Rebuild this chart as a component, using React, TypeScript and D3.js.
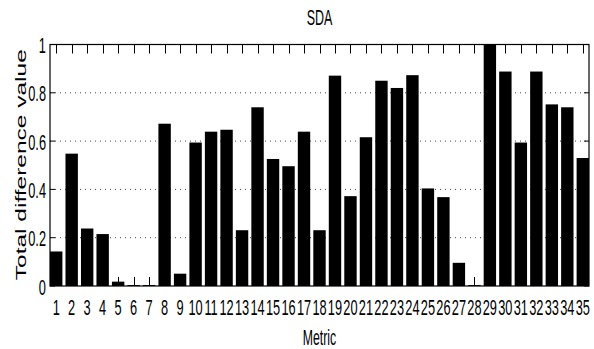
import { useEffect, useRef } from "react";
import * as d3 from "d3";

const metrics = [
  "1", "2", "3", "4", "5", "6", "7", "8", "9", "10",
  "11", "12", "13", "14", "15", "16", "17", "18", "19", "20",
  "21", "22", "23", "24", "25", "26", "27", "28", "29", "30",
  "31", "32", "33", "34", "35",
];
const values = [
  0.143, 0.548, 0.238, 0.215, 0.018, 0.004, 0.004, 0.672, 0.051, 0.594,
  0.639, 0.647, 0.231, 0.74, 0.526, 0.496, 0.639, 0.231, 0.871, 0.372,
  0.616, 0.85, 0.82, 0.873, 0.404, 0.368, 0.096, 0.004, 1.0, 0.888,
  0.594, 0.888, 0.752, 0.74, 0.53,
];
const yTicks = [0, 0.2, 0.4, 0.6, 0.8, 1];
const yTickLabels = ["0", "0.2", "0.4", "0.6", "0.8", "1"];

const App = () => {
  const svgRef = useRef<SVGSVGElement>(null);

  useEffect(() => {
    if (!svgRef.current) return;
    d3.select(svgRef.current).selectAll("*").remove();

    const width = 594;
    const height = 349;
    const margin = { top: 44.5, right: 5, bottom: 63, left: 50 };
    const font = "'Liberation Sans', Arial, sans-serif";
    const stretch = 1.75; // the original figure is squashed sideways

    const svg = d3.select(svgRef.current)
      .attr("width", width)
      .attr("height", height)
      .attr("viewBox", `0 0 ${width} ${height}`);

    const x = d3.scaleLinear()
      .domain([0.6, metrics.length + 0.4])
      .range([margin.left, width - margin.right]);
    const y = d3.scaleLinear()
      .domain([0, 1])
      .range([height - margin.bottom, margin.top]);

    const x0 = x.range()[0];
    const x1 = x.range()[1];
    const yb = y(0);
    const yt = y(1);
    const barW = x(0.8) - x(0);

    // dotted grid
    svg.append("g")
      .selectAll("line")
      .data(yTicks.slice(1, -1))
      .join("line")
      .attr("x1", x0)
      .attr("x2", x1)
      .attr("y1", d => y(d))
      .attr("y2", d => y(d))
      .attr("stroke", "#444")
      .attr("stroke-width", 1)
      .attr("stroke-dasharray", "1,4");

    // bars
    svg.append("g")
      .selectAll("rect")
      .data(values)
      .join("rect")
      .attr("x", (_, i) => x(i + 1) - barW / 2)
      .attr("y", d => y(d))
      .attr("width", barW)
      .attr("height", d => yb - y(d))
      .attr("fill", "#000");

    // ticks
    const ticks = svg.append("g").attr("stroke", "#000").attr("stroke-width", 1);
    metrics.forEach((_, i) => {
      const xi = Math.round(x(i + 1)) + 0.5;
      ticks.append("line").attr("x1", xi).attr("x2", xi).attr("y1", yt).attr("y2", yt + 9);
      ticks.append("line").attr("x1", xi).attr("x2", xi).attr("y1", yb).attr("y2", yb - 9);
    });
    yTicks.forEach(t => {
      ticks.append("line").attr("x1", x0).attr("x2", x0 + 5).attr("y1", y(t)).attr("y2", y(t));
      ticks.append("line").attr("x1", x1).attr("x2", x1 - 5).attr("y1", y(t)).attr("y2", y(t));
    });

    // box
    svg.append("rect")
      .attr("x", x0)
      .attr("y", yt)
      .attr("width", x1 - x0)
      .attr("height", yb - yt)
      .attr("fill", "none")
      .attr("stroke", "#000")
      .attr("stroke-width", 1.2);

    const label = (tx: number, ty: number, text: string, anchor: string, size = 12.8) =>
      svg.append("text")
        .attr("transform", `translate(${tx},${ty}) scale(1,${stretch})`)
        .attr("text-anchor", anchor)
        .style("font-family", font)
        .style("font-size", `${size}px`)
        .style("fill", "#000")
        .text(text);

    metrics.forEach((m, i) => label(x(i + 1), 315, m, "middle"));
    yTicks.forEach((t, i) => label(x0 - 4, y(t) + 8.5, yTickLabels[i], "end"));

    label((x0 + x1) / 2, 25, "SDA", "middle", 12.5);
    label((x0 + x1) / 2, 345, "Metric", "middle", 12.3);

    svg.append("text")
      .attr("transform", `translate(26,164.7) rotate(-90) scale(${stretch},1)`)
      .attr("text-anchor", "middle")
      .style("font-family", font)
      .style("font-size", "14px")
      .style("fill", "#000")
      .text("Total difference value");
  }, []);

  return (
    <div style={{ position: "absolute", left: 0, top: 0, background: "#fff" }}>
      <svg ref={svgRef} style={{ display: "block" }}></svg>
    </div>
  );
};

export default App;
